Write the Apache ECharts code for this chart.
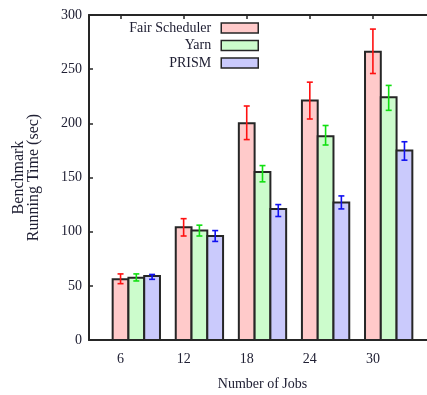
<!DOCTYPE html>
<html>
<head>
<meta charset="utf-8">
<script src="https://cdn.jsdelivr.net/npm/echarts@6/dist/echarts.min.js"></script>
<style>
  html, body { margin: 0; padding: 0; background: #fff; }
  #chart { width: 427px; height: 395px; }
</style>
</head>
<body>
<div id="chart"></div>
<script>
const jobs = [6, 12, 18, 24, 30];
const seriesNames = ['Fair Scheduler', 'Yarn', 'PRISM'];

const fairMean = [56, 104, 200, 221, 266];
const fairLow = [52, 96, 185, 204, 246];
const fairHigh = [61, 112, 216, 238, 287];

const yarnMean = [57.5, 101, 155, 188, 224];
const yarnLow = [54.5, 96, 146, 180, 212];
const yarnHigh = [61, 106, 161, 198, 235];

const prismMean = [59, 96, 121, 127, 175];
const prismLow = [56, 91, 114, 121, 166];
const prismHigh = [60.5, 101, 125, 133, 183];

const fills = ['#ffcaca', '#ccfccc', '#cacafc'];
const errColors = ['#ff1010', '#10e010', '#1010f0'];
const textColor = '#202034';
const serif = '"Liberation Serif", "DejaVu Serif", serif';

const chart = echarts.init(document.getElementById('chart'));

function makeSeries(k, mean, low, high) {
  return {
    name: seriesNames[k],
    type: 'custom',
    itemStyle: { color: fills[k], borderColor: '#222', borderWidth: 1.5 },
    data: jobs.map((j, i) => [j, mean[i], low[i], high[i]]),
    renderItem: (params, api) => {
      const x = api.value(0);
      const base = api.coord([x, 0]);
      const top = api.coord([x, api.value(1)]);
      const lo = api.coord([x, api.value(2)]);
      const hi = api.coord([x, api.value(3)]);
      const bw = api.size([1.5, 0])[0];
      const cx = base[0] + k * bw;
      const cap = 3;
      return {
        type: 'group',
        children: [
          {
            type: 'rect',
            shape: { x: cx - bw / 2, y: top[1], width: bw, height: base[1] - top[1] },
            style: { fill: fills[k], stroke: '#262626', lineWidth: 2 }
          },
          {
            type: 'polyline',
            shape: { points: [[cx, lo[1]], [cx, hi[1]]] },
            style: { stroke: errColors[k], lineWidth: 1.6, fill: null }
          },
          {
            type: 'polyline',
            shape: { points: [[cx - cap, lo[1]], [cx + cap, lo[1]]] },
            style: { stroke: errColors[k], lineWidth: 1.6, fill: null }
          },
          {
            type: 'polyline',
            shape: { points: [[cx - cap, hi[1]], [cx + cap, hi[1]]] },
            style: { stroke: errColors[k], lineWidth: 1.6, fill: null }
          }
        ]
      };
    }
  };
}

chart.setOption({
  animation: false,
  textStyle: { fontFamily: serif, color: textColor },
  grid: { left: 89, top: 15, bottom: 55, width: 347, outerBoundsMode: 'none', containLabel: false },
  legend: {
    orient: 'vertical',
    align: 'right',
    right: 168,
    top: 21,
    padding: 0,
    icon: 'rect',
    itemWidth: 37,
    itemHeight: 10,
    itemGap: 3.5,
    textStyle: { fontFamily: serif, fontSize: 14, color: textColor, padding: [0, 5, 0, 0] },
    data: seriesNames.map((n, k) => ({
      name: n,
      itemStyle: { color: fills[k], borderColor: '#262626', borderWidth: 1.5 }
    }))
  },
  xAxis: [
    {
      type: 'value',
      min: 3,
      max: 36,
      position: 'bottom',
      name: 'Number of Jobs',
      nameLocation: 'middle',
      nameGap: 37,
      nameTextStyle: { fontFamily: serif, fontSize: 14, color: textColor },
      splitLine: { show: false },
      axisLine: { lineStyle: { color: '#262626', width: 2 } },
      axisTick: { show: false },
      axisLabel: {
        customValues: jobs,
        margin: 12,
        fontFamily: serif,
        fontSize: 14,
        color: textColor
      }
    },
    {
      type: 'value',
      min: 3,
      max: 36,
      position: 'top',
      splitLine: { show: false },
      axisLine: { lineStyle: { color: '#262626', width: 2 } },
      axisTick: { inside: true, length: 4, customValues: jobs, lineStyle: { color: '#262626', width: 1.5 } },
      axisLabel: { show: false }
    }
  ],
  yAxis: {
    type: 'value',
    min: 0,
    max: 300,
    interval: 50,
    name: 'Benchmark\nRunning Time (sec)',
    nameLocation: 'middle',
    nameGap: 48,
    nameTextStyle: { fontFamily: serif, fontSize: 16, lineHeight: 15, color: textColor, align: 'center' },
    splitLine: { show: false },
    axisLine: { show: true, lineStyle: { color: '#262626', width: 2 } },
    axisTick: { show: true, inside: true, length: 4, lineStyle: { color: '#262626', width: 1.5 } },
    axisLabel: { margin: 7, fontFamily: serif, fontSize: 14, color: textColor }
  },
  series: [
    makeSeries(0, fairMean, fairLow, fairHigh),
    makeSeries(1, yarnMean, yarnLow, yarnHigh),
    makeSeries(2, prismMean, prismLow, prismHigh)
  ]
});
</script>
</body>
</html>
